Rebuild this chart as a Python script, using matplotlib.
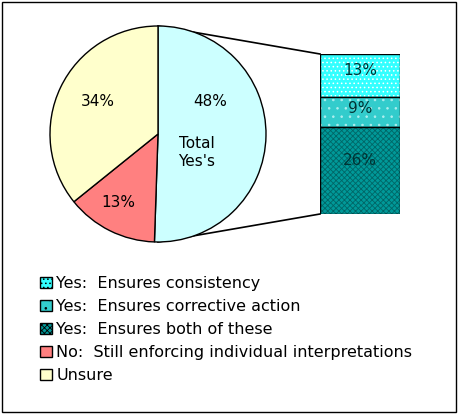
import matplotlib.pyplot as plt
from matplotlib.patches import Patch, Rectangle

pie_labels = ["Total Yes's", "No:  Still enforcing individual interpretations", "Unsure"]
pie_values = [48, 13, 34]
pie_colors = ["#CCFFFF", "#FF8080", "#FFFFCC"]

bar_labels = ["Yes:  Ensures consistency", "Yes:  Ensures corrective action", "Yes:  Ensures both of these"]
bar_values = [13, 9, 26]
bar_colors = ["#33FFFF", "#33CCCC", "#009999"]
bar_hatch = ["....", "..", "xxxxxx"]
bar_hatch_col = ["white", "#AEEEEE", "#006666"]

W, H = 460, 417
fig = plt.figure(figsize=(W / 100, H / 100), dpi=100)
plt.rcParams['font.family'] = ['Verdana', 'DejaVu Sans']
plt.rcParams['hatch.linewidth'] = 0.6

# frame and connector lines in pixel coords
base = fig.add_axes([0, 0, 1, 1])
base.set_xlim(0, W)
base.set_ylim(H, 0)
base.axis("off")
base.add_patch(Rectangle((2, 2), 454, 410, fill=False, ec="black", lw=1))
base.plot([158, 320], [26, 54], color="black", lw=1.2)
base.plot([158, 320], [242, 214], color="black", lw=1.2)

# pie
pax = fig.add_axes([50 / W, (H - 242) / H, 216 / W, 216 / H])
wedges, _ = pax.pie(pie_values, colors=pie_colors, startangle=90, counterclock=False,
                    wedgeprops=dict(edgecolor="black", linewidth=1))
pax.set_xlim(-1, 1)
pax.set_ylim(-1, 1)
fs = 11
pax.text(0.48, 0.30, "48%", ha="center", va="center", fontsize=fs)
pax.text(0.36, -0.17, "Total\nYes's", ha="center", va="center", fontsize=fs)
pax.text(-0.37, -0.63, "13%", ha="center", va="center", fontsize=fs)
pax.text(-0.56, 0.30, "34%", ha="center", va="center", fontsize=fs)

# stacked bar of the Yes breakdown
bax = fig.add_axes([320 / W, (H - 214) / H, 80 / W, 160 / H])
bax.set_xlim(0, 1)
bax.set_ylim(0, sum(bar_values))
bax.axis("off")
top = sum(bar_values)
for v, c, h, hc in zip(bar_values, bar_colors, bar_hatch, bar_hatch_col):
    bottom = top - v
    bax.bar(0.5, v, bottom=bottom, width=1, color=c, hatch=h, edgecolor=hc, linewidth=0)
    bax.bar(0.5, v, bottom=bottom, width=1, fill=False, edgecolor="black", linewidth=1)
    bax.text(0.5, bottom + v * 0.62, f"{v}%", ha="center", va="center", fontsize=fs, color="#003333")
    top = bottom

handles = []
for lab, c, h, hc in zip(bar_labels, bar_colors, bar_hatch, bar_hatch_col):
    handles.append(Patch(facecolor=c, hatch=h, edgecolor="black", label=lab))
for lab, c in zip(pie_labels[1:], pie_colors[1:]):
    handles.append(Patch(facecolor=c, edgecolor="black", label=lab))
fig.legend(handles=handles, loc="upper left", bbox_to_anchor=(34 / W, 1 - 270 / H),
           frameon=False, fontsize=11.5, handlelength=0.7, handleheight=0.7,
           handletextpad=0.3, labelspacing=0.5, borderaxespad=0)

fig.savefig("out.png", dpi=100)
